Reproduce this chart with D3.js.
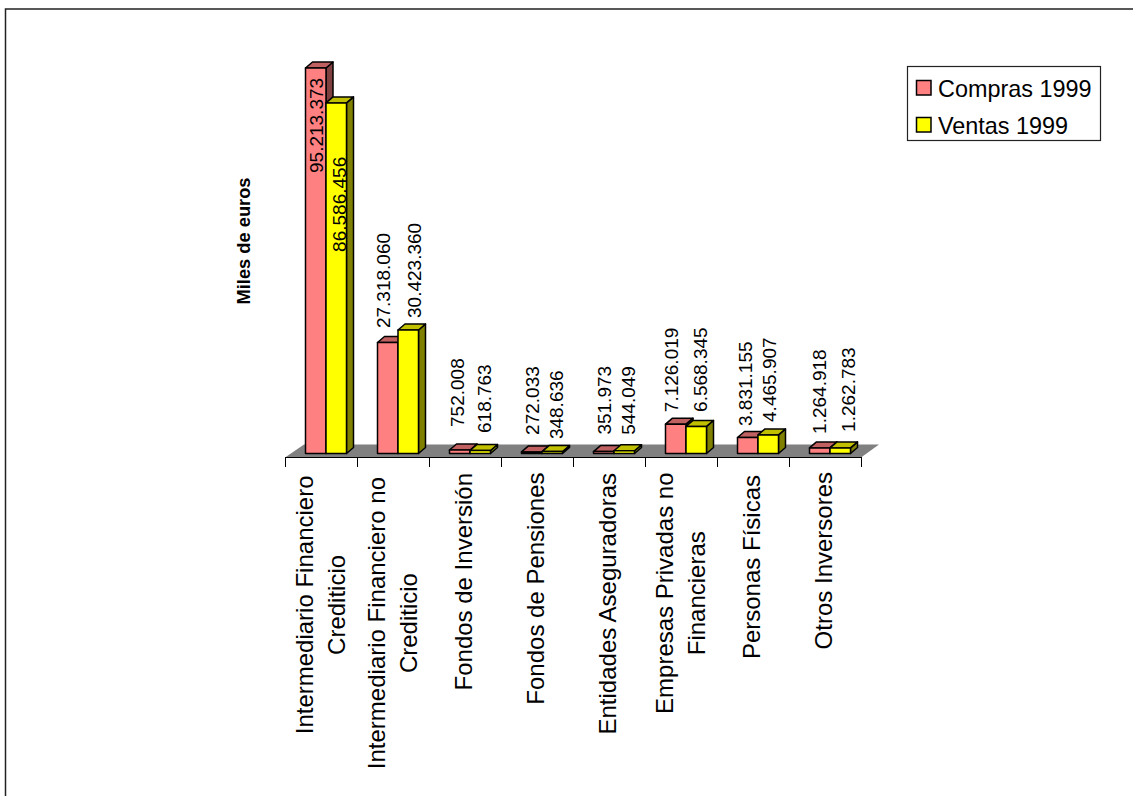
<!DOCTYPE html>
<html><head><meta charset="utf-8">
<script src="https://cdn.jsdelivr.net/npm/d3@7"></script>
<style>html,body{margin:0;padding:0;background:#fff;overflow:hidden}svg{display:block}text{font-family:"Liberation Sans",Arial,sans-serif;fill:#000}</style>
</head><body><div id="c"></div>
<script>
const categories = [["Intermediario Financiero","Crediticio"],["Intermediario Financiero no","Crediticio"],["Fondos de Inversión"],["Fondos de Pensiones"],["Entidades Aseguradoras"],["Empresas Privadas no","Financieras"],["Personas Físicas"],["Otros Inversores"]];
const compras = [95213373,27318060,752008,272033,351973,7126019,3831155,1264918];
const ventas = [86586456,30423360,618763,348636,544049,6568345,4465907,1262783];
const seriesNames = ["Compras 1999","Ventas 1999"];
const yTitle = "Miles de euros";
// hand-placed data labels: nudges relative to the top centre of each bar
const labelDx = [[1,-4,-2,1,1,-4,-2,0],[3,6,4,4,4,4,1,8]];
const labelDy = [[105,-14.5,-23,-17,-17,-12,-11.5,-14],[149,-12,-17.5,-12.5,-16,-14.5,-13,-16]];
// where each category label block starts below the axis
const labelTop = [475.5,477,473,472.5,473,472.5,475,472];

const W=1133,H=796;
const svg=d3.select("#c").append("svg").attr("width",W).attr("height",H);
svg.append("path").attr("d","M5.5,800V9H1133").attr("fill","none").attr("stroke","#222").attr("stroke-width",1.5);

const base=453, dx=7, dy=6;
const y=d3.scaleLinear().domain([0,95213373]).range([base,68]);
const x=d3.scaleBand().domain(d3.range(8)).range([285,861]);
const inner=d3.scaleBand().domain([0,1]).range([20,61]);

// floor
svg.append("path").attr("d","M285,457.5L304,444.5H879L861,457.5Z").attr("fill","#808080").attr("stroke","none");
svg.append("path").attr("d","M285,457.5H861").attr("stroke","#000").attr("fill","none");
svg.append("g").selectAll("line").data(d3.range(9)).join("line")
 .attr("x1",i=>Math.round(285+i*x.step())+.5).attr("x2",i=>Math.round(285+i*x.step())+.5).attr("y1",457).attr("y2",467).attr("stroke","#000");

const colors=["#ff8080","#ffff00"], tops=["#c06060","#c0c000"], sides=["#804040","#808000"];
[compras,ventas].forEach((vals,s)=>{
  const g=svg.append("g").attr("stroke","#000").attr("stroke-width",1.5).attr("stroke-linejoin","round");
  vals.forEach((v,i)=>{
    const x0=x(i)+inner(s)+.5, w=inner.bandwidth(), t=y(v), b=base+.5;
    g.append("path").attr("d",`M${x0+w},${t}l${dx},${-dy}V${b-dy}L${x0+w},${b}Z`).attr("fill",sides[s]);
    g.append("path").attr("d",`M${x0},${t}l${dx},${-dy}h${w}l${-dx},${dy}Z`).attr("fill",tops[s]);
    g.append("rect").attr("x",x0).attr("y",t).attr("width",w).attr("height",b-t).attr("fill",colors[s]);
  });
});
const fmt=v=>d3.format(",")(v).replace(/,/g,".");
[compras,ventas].forEach((vals,s)=>{
  vals.forEach((v,i)=>{
    const cx=x(i)+inner(s)+inner.bandwidth()/2+labelDx[s][i];
    svg.append("text").attr("transform",`translate(${cx+7},${y(v)+labelDy[s][i]}) rotate(-90)`).attr("font-size",19).text(fmt(v));
  });
});

// category labels: blocks hang from the axis, lines centred on the widest line
categories.forEach((lines,i)=>{
  const cx=x(i)+x.step()/2;
  const lh=32, n=lines.length;
  const ts=lines.map(l=>svg.append("text").attr("text-anchor","middle").attr("font-size",24).text(l));
  const maxW=d3.max(ts,t=>t.node().getComputedTextLength());
  const cy=labelTop[i]+maxW/2;
  ts.forEach((t,j)=>t.attr("transform",`translate(${cx+(n>1?8:7)+(j-(n-1)/2)*lh},${cy}) rotate(-90)`));
});
svg.append("text").attr("text-anchor","middle").attr("transform","translate(249.5,241) rotate(-90)").attr("font-size",18.3).attr("font-weight","bold").text(yTitle);

// legend
const lg=svg.append("g");
lg.append("rect").attr("x",907.5).attr("y",66.5).attr("width",193).attr("height",74).attr("fill","#fff").attr("stroke","#222").attr("stroke-width",1.2);
seriesNames.forEach((n,i)=>{
  const yy=89+i*37;
  lg.append("rect").attr("x",916.5).attr("y",yy-8.5).attr("width",14.5).attr("height",14.5).attr("fill",colors[i]).attr("stroke","#000").attr("stroke-width",1.5);
  lg.append("text").attr("x",938).attr("y",yy+8).attr("font-size",23.4).text(n);
});
</script></body></html>
